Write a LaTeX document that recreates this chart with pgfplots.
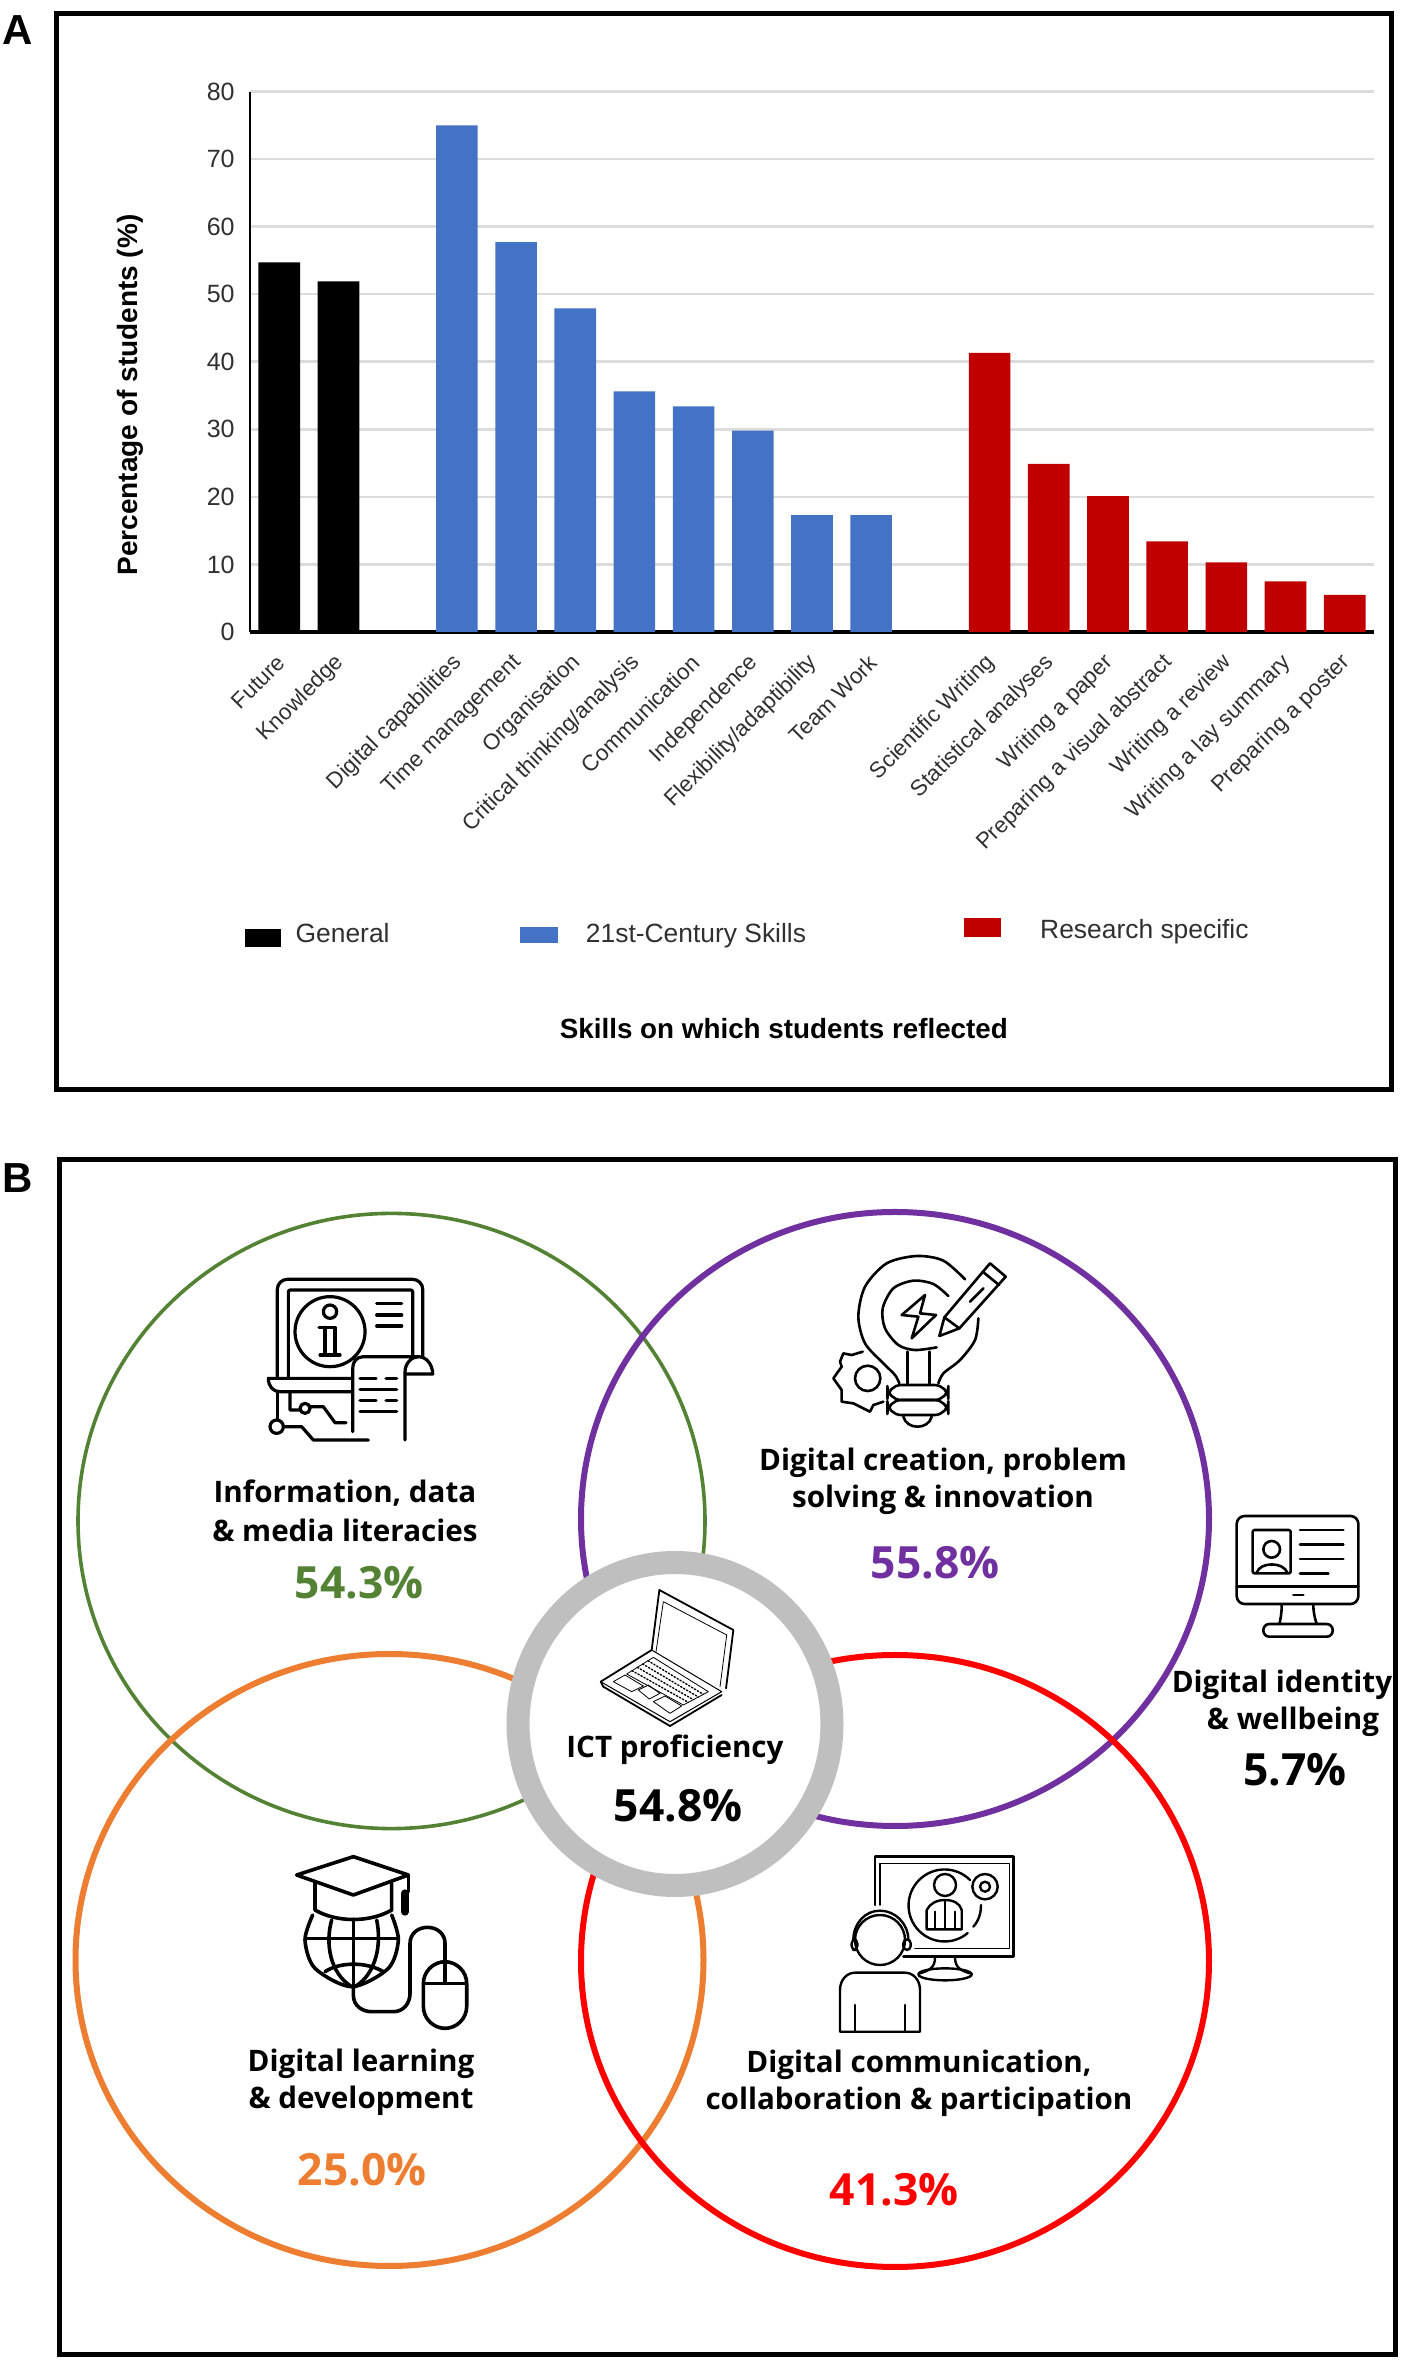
\documentclass[border=0pt]{standalone}
\usepackage{pgfplots}
\usepackage{fontspec}
\usetikzlibrary{calc}
\pgfplotsset{compat=1.18}
\setmainfont{Liberation Sans}
\newfontfamily\lab{Open Sans}
\definecolor{genblack}{HTML}{000000}
\definecolor{skillblue}{HTML}{4472C4}
\definecolor{resred}{HTML}{C00000}
\definecolor{gridgrey}{HTML}{DCDCDC}
\definecolor{ticktxt}{HTML}{303030}
\definecolor{cgreen}{HTML}{548235}
\definecolor{cpurple}{HTML}{7030A0}
\definecolor{corange}{HTML}{ED7D31}
\definecolor{cred}{HTML}{FF0000}
\definecolor{cgrey}{HTML}{BFBFBF}
% legend swatch: colour, width, cell width, bottom, top
\newcommand\swatch[5]{\fill[#1] (0pt,#4) rectangle (#2,#5); \node[draw=none,fill=none,inner sep=0pt,minimum width=#3,minimum height=0pt,anchor=west] at (0pt,0pt) {};}
% big labels of panel B
\newcommand\pct[4]{\node[text=#3,font=\lab\bfseries\fontsize{22.2}{22}\selectfont] at (#1,#2) {#4};}
\newcommand\two[5]{\node[font=\lab\bfseries\fontsize{14.8}{18.5}\selectfont,align=center] at (#1,#2) {#3};
  \node[font=\lab\bfseries\fontsize{14.8}{18.5}\selectfont,align=center] at (#4,#2+37) {#5};}
\begin{document}
\begin{tikzpicture}
\path[use as bounding box] (0,0) rectangle (702pt,1184pt);
\begin{axis}[
  at={(124.85pt,868pt)}, anchor=south west,
  scale only axis, width=562.3pt, height=270.25pt,
  xmin=-0.5, xmax=18.5, ymin=0, ymax=80,
  ytick={0,10,...,80},
  xtick={0,1,3,4,5,6,7,8,9,10,12,13,14,15,16,17,18},
  xticklabels={Future,Knowledge,Digital capabilities,Time management,Organisation,Critical thinking/analysis,Communication,Independence,Flexibility/adaptibility,Team Work,Scientific Writing,Statistical analyses,Writing a paper,Preparing a visual abstract,Writing a review,Writing a lay summary,Preparing a poster},
  axis x line*=bottom, axis y line*=left,
  axis line style={-},
  x axis line style={line width=2pt},
  y axis line style={line width=1pt},
  tick style={draw=none},
  ymajorgrids, grid style={gridgrey,line width=1.25pt},
  /pgf/number format/assume math mode=true,
  y tick label style={font=\fontsize{12.5}{12.5}\selectfont,text=ticktxt,xshift=-4pt},
  x tick label style={font=\fontsize{11.2}{11.2}\selectfont,text=ticktxt,anchor=east,inner sep=0pt,xshift=1pt,yshift=-13.5pt,rotate=45},
  ylabel={Percentage of students (\%)},
  ylabel style={at={(axis description cs:-0.1065,0.4385)},anchor=center,font=\bfseries\fontsize{14}{14}\selectfont},
  xlabel={Skills on which students reflected},
  xlabel style={at={(axis description cs:0.475,-0.7345)},anchor=center,font=\bfseries\fontsize{13.9}{13.9}\selectfont},
  legend style={at={(axis description cs:-0.0043,-0.5585)},anchor=west,draw=none,fill=none,inner sep=0pt,
    nodes={inner sep=0pt,text=ticktxt,font=\fontsize{13.2}{13.2}\selectfont},
    /tikz/every even column/.style={column sep=0pt}},
  legend columns=3,
  legend cell align=left,
  clip=false,
]
\addplot[ybar,bar width=20.8pt,bar shift=0pt,fill=genblack,draw=none,
  legend image code/.code={\swatch{genblack}{18pt}{25pt}{-6pt}{3pt}}]
  coordinates {(0,54.7) (1,51.9)};
\addlegendentry{General\hspace{65pt}\mbox{}}
\addplot[ybar,bar width=20.8pt,bar shift=0pt,fill=skillblue,draw=none,
  legend image code/.code={\swatch{skillblue}{19pt}{33pt}{-4pt}{4pt}}]
  coordinates {(3,75.0) (4,57.7) (5,47.9) (6,35.6) (7,33.4) (8,29.8) (9,17.3) (10,17.3)};
\addlegendentry{21st-Century Skills\hspace{78.9pt}\mbox{}}
\addplot[ybar,bar width=20.8pt,bar shift=0pt,fill=resred,draw=none,
  legend image code/.code={\swatch{resred}{18.5pt}{38pt}{-1pt}{8.5pt}}]
  coordinates {(12,41.3) (13,24.9) (14,20.1) (15,13.4) (16,10.3) (17,7.5) (18,5.5)};
\addlegendentry{\raisebox{4pt}{Research specific}}
\end{axis}

% pixel coordinates of the reference from here on
\begin{scope}[shift={(0,1184pt)},x=0.5pt,y=-0.5pt]
\draw[line width=2.5pt] (56,14) rectangle (1391,1090);
\draw[line width=2.5pt] (59,1160) rectangle (1395,2355);
\node[font=\bfseries\fontsize{21}{21}\selectfont] at (18,30) {A};
\node[font=\bfseries\fontsize{21}{21}\selectfont] at (18,1178) {B};

\draw[cgreen,line width=1.8pt] (391.5,1521) ellipse (313.5 and 307.6);
\draw[cpurple,line width=3pt] (895,1519) ellipse (314 and 307);
\draw[corange,line width=3pt] (389.5,1960) ellipse (314 and 306);
\draw[cred,line width=3pt] (895,1961) ellipse (314 and 306);
\draw[cgrey,line width=11.5pt,fill=white] (675,1724) ellipse (157 and 161.5);

\two{345}{1493}{Information, data}{345}{\& media literacies}
\pct{359}{1583}{cgreen}{54.3\%}
\two{943}{1463}{Digital creation, problem}{943}{solving \& innovation}
\pct{935}{1563}{cpurple}{55.8\%}
\node[font=\lab\bfseries\fontsize{14.8}{18.5}\selectfont] at (675,1750) {ICT proficiency};
\pct{678}{1806}{black}{54.8\%}
\two{1282}{1685}{Digital identity}{1293}{\& wellbeing}
\pct{1295}{1770}{black}{5.7\%}
\two{361}{2064}{Digital learning}{361}{\& development}
\pct{362}{2170}{corange}{25.0\%}
\two{919}{2065}{Digital communication,}{919}{collaboration \& participation}
\pct{894}{2190}{cred}{41.3\%}

% icons, in the coordinates of 3x crops
\begin{scope}[shift={(220,1240)},x=0.1667pt,y=-0.1667pt,line width=1.6pt,line cap=round,line join=round]
\draw[rounded corners=5pt] (172,410)--(172,118)--(608,118)--(608,350);
\draw[rounded corners=1pt] (205,410)--(205,150)--(578,150)--(578,345);
\draw (330,275) circle (105);
\draw (330,215) circle (20);
\draw (297,262)--(345,262)--(345,345) (315,262)--(315,345) (300,345)--(360,345);
\draw (470,190)--(545,190) (470,225)--(545,225) (470,258)--(545,258);
\draw (395,415)--(145,415) .. controls (145,440) and (160,455) .. (180,455)--(395,455);
\draw[fill=white] (398,575)--(398,385) .. controls (398,365) and (410,350) .. (430,350)--(595,350) .. controls (575,350) and (555,370) .. (555,395)--(555,600);
\draw (595,350) .. controls (620,350) and (638,375) .. (638,402)--(555,402);
\draw (420,415)--(468,415) (498,415)--(530,415) (420,448)--(530,448) (420,482)--(468,482) (498,482)--(530,482) (420,515)--(530,515);
\draw (210,460)--(210,510)--(240,510) (270,500)--(310,500)--(345,548)--(378,548);
\draw (255,505) circle (15);
\draw (172,455)--(172,540);
\draw (170,560) circle (20);
\draw (190,560)--(245,560)--(280,600)--(445,600);
\end{scope}

\begin{scope}[shift={(800,1220)},x=0.1667pt,y=-0.1667pt,line width=1.3pt,line cap=round,line join=round]
\draw plot[smooth] coordinates {(495,178) (430,122) (350,108) (260,130) (195,200) (175,290) (195,370) (250,430) (285,465) (298,490)};
\draw plot[smooth] coordinates {(535,295) (525,360) (480,420) (430,460) (415,490)};
\draw plot[smooth] coordinates {(445,228) (400,192) (340,182) (280,205) (248,265) (255,325) (295,375) (345,390) (410,382)};
\draw (322,395)--(322,490) (388,395)--(388,490);
\draw[rounded corners=7pt] (262,495) rectangle (445,540);
\draw[rounded corners=7pt] (262,540) rectangle (445,585);
\draw (310,590) .. controls (320,630) and (385,630) .. (395,590);
\draw (375,225)--(305,285)--(355,290)--(335,355)--(408,285)--(360,280)--cycle;
\draw (570,130)--(617,170)--(478,325)--(418,348)--(433,292)--cycle;
\draw (548,155)--(597,195) (510,245)--(550,205) (433,292)--(478,325);
\draw (203,475) circle (38);
\draw (188,395)--(155,405)--(130,400)--(120,425)--(125,440)--(100,475)--(125,510)--(125,545)--(160,550)--(190,565)--(210,575)--(220,555)--(250,545);
\end{scope}

\begin{scope}[shift={(1200,1490)},x=0.1667pt,y=-0.1667pt,line width=1.3pt,line cap=round,line join=round]
\draw[rounded corners=4pt] (110,78) rectangle (475,342);
\draw (110,290)--(475,290) (280,315)--(310,315);
\draw[rounded corners=1pt] (158,120) rectangle (272,250);
\draw (215,178) circle (25);
\draw (170,248) .. controls (180,215) and (250,215) .. (262,248);
\draw (300,120)--(430,120) (300,163)--(430,163) (300,207)--(430,207) (300,250)--(385,250);
\draw (245,345) .. controls (245,370) and (242,385) .. (238,402) (340,345) .. controls (340,370) and (345,385) .. (350,402);
\draw[rounded corners=3pt] (190,402) rectangle (398,440);
\end{scope}

\begin{scope}[shift={(570,1570)},x=0.1667pt,y=-0.1667pt,line width=0.9pt,line cap=round,line join=round]
\draw (245,240)--(268,60)--(490,180)--(468,355);
\draw[line width=0.4pt] (258,245)--(280,95)--(470,195)--(450,350);
\draw (245,240)--(92,335)--(100,350)--(300,468)--(455,375);
\draw[line width=0.5pt] (245,240)--(455,365)--(300,455)--(92,335);
\draw[line width=0.4pt] (170,312)--(250,262)--(415,365)--(340,405)--cycle;
\foreach \t in {0.2,0.4,0.6,0.8}
  \draw[line width=0.7pt,densely dotted] ($(170,312)!\t!(250,262)$)--($(340,405)!\t!(415,365)$);
\draw[line width=0.4pt] (130,335)--(165,315)--(220,348)--(185,365)--cycle;
\draw[line width=0.4pt] (205,360)--(235,345)--(270,370)--(238,387)--cycle;
\draw[line width=0.4pt] (250,395)--(285,378)--(335,408)--(300,430)--cycle;
\end{scope}

\begin{scope}[shift={(270,1840)},x=0.1667pt,y=-0.1667pt,line width=1.8pt,line cap=round,line join=round]
\draw (80,105)--(250,50)--(415,105)--(250,165)--cycle;
\draw (415,105)--(415,155);
\draw[line width=4pt] (405,160)--(405,215);
\draw (135,130)--(135,210) .. controls (200,248) and (300,248) .. (365,210)--(365,130);
\draw plot[smooth] coordinates {(128,225) (105,300) (135,385) (245,440) (355,385) (385,300) (365,225)};
\draw (108,295)--(385,295) (250,238)--(250,440);
\draw (185,240) .. controls (165,310) and (180,400) .. (245,440);
\draw (320,240) .. controls (335,310) and (320,400) .. (255,440);
\draw (165,395) .. controls (210,365) and (290,365) .. (340,395);
\draw (250,445)--(250,465) .. controls (250,500) and (280,515) .. (305,515)--(370,515) .. controls (400,515) and (420,490) .. (420,460)--(420,310) .. controls (420,280) and (445,262) .. (472,262) .. controls (500,262) and (525,280) .. (525,310)--(525,430);
\draw[rounded corners=11pt] (460,365) rectangle (590,565);
\draw (462,430)--(588,430);
\end{scope}

\begin{scope}[shift={(820,1840)},x=0.1667pt,y=-0.1667pt,line width=1.2pt,line cap=round,line join=round]
\draw (165,195)--(165,50)--(580,50)--(580,350)--(250,350);
\draw[line width=0.8pt] (180,195)--(180,70)--(568,70)--(568,325)--(285,325);
\draw (345,352) .. controls (345,385) and (325,392) .. (300,400) (405,352) .. controls (405,385) and (425,392) .. (450,400);
\draw (375,403) ellipse (80 and 18);
\draw (450,120) arc[start angle=-45,end angle=-310,radius=108];
\draw (483,195) .. controls (483,215) and (478,240) .. (460,260);
\draw (375,135) circle (33);
\draw (320,268)--(320,210) .. controls (330,190) and (350,180) .. (375,180) .. controls (400,180) and (420,190) .. (425,210)--(425,268)--cycle;
\draw (375,185)--(375,265) (345,215)--(345,268) (405,215)--(405,268);
\draw (495,140) circle (38);
\draw (495,140) circle (15);
\draw (180,300) circle (75);
\draw (100,300) .. controls (100,250) and (135,212) .. (180,212) .. controls (225,212) and (265,250) .. (265,300);
\draw[rounded corners=2pt] (95,298) rectangle (112,330);
\draw[rounded corners=2pt] (250,298) rectangle (272,330);
\draw (60,575)--(60,450) .. controls (60,420) and (80,398) .. (105,398)--(255,398) .. controls (280,398) and (300,420) .. (300,450)--(300,575)--cycle;
\draw (105,495)--(105,575) (255,495)--(255,575);
\end{scope}
\end{scope}
\end{tikzpicture}
\end{document}
